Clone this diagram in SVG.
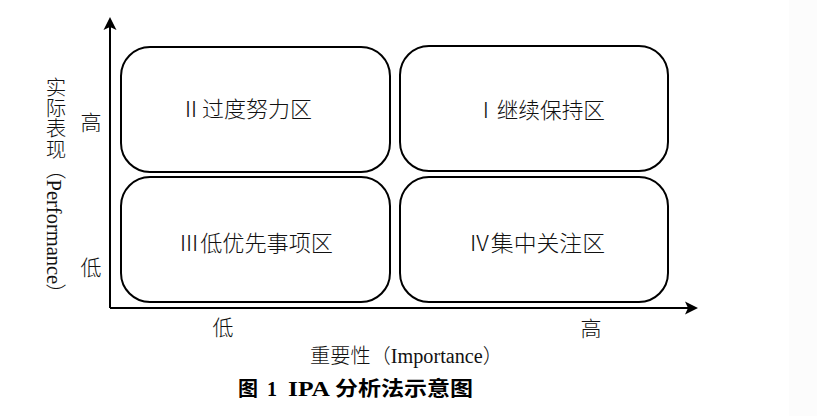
<svg xmlns="http://www.w3.org/2000/svg" width="817" height="416" viewBox="0 0 817 416">
<style>
.t{font-family:"Liberation Serif","Noto Sans CJK SC",serif;fill:#111;font-weight:300;}
.box{fill:#fff;stroke:#000;stroke-width:2;}
.axis{stroke:#000;stroke-width:2;fill:none;}
.head{fill:#000;stroke:none;}
.lbl{font-size:22px;}
.ax{font-size:21px;text-anchor:middle;}
.cap{font-family:"Liberation Serif","Noto Sans CJK SC",serif;font-weight:bold;font-size:20px;fill:#000;}
</style>
<rect x="0" y="0" width="817" height="416" fill="#fff"/>
<rect x="789" y="0" width="28" height="416" fill="#fcfcfc"/>
<g id="connectors">
<line class="axis" x1="110" y1="308" x2="110" y2="24"/>
<path class="head" d="M110,17 L116.5,30 L110,27 L103.5,30 Z"/>
<line class="axis" x1="110" y1="308" x2="690" y2="308"/>
<path class="head" d="M698,308 L685,301.5 L688,308 L685,314.5 Z"/>
</g>
<g id="q2">
<rect class="box" x="121" y="47" width="269" height="125" rx="29" ry="29"/>
<text class="t lbl" x="180" y="117" textLength="132" lengthAdjust="spacingAndGlyphs">Ⅱ过度努力区</text>
</g>
<g id="q1">
<rect class="box" x="400" y="46" width="268" height="125" rx="29" ry="29"/>
<text class="t lbl" x="475" y="118" textLength="130" lengthAdjust="spacingAndGlyphs">Ⅰ继续保持区</text>
</g>
<g id="q3">
<rect class="box" x="121" y="177" width="269" height="125" rx="29" ry="29"/>
<text class="t lbl" x="178" y="251" textLength="155" lengthAdjust="spacingAndGlyphs">Ⅲ低优先事项区</text>
</g>
<g id="q4">
<rect class="box" x="400" y="177" width="268" height="125" rx="29" ry="29"/>
<text class="t lbl" x="468" y="251" textLength="137" lengthAdjust="spacingAndGlyphs">Ⅳ集中关注区</text>
</g>
<g id="axis-labels">
<text class="t ax" x="91" y="130">高</text>
<text class="t ax" x="91" y="275">低</text>
<text class="t ax" x="223" y="335">低</text>
<text class="t ax" x="591" y="336">高</text>
<text class="t" x="310" y="363" font-size="20" textLength="193" lengthAdjust="spacingAndGlyphs">重要性（Importance）</text>
<text class="t" x="54" y="77" font-size="20.5" writing-mode="vertical-rl">实际表现（Performance）</text>
</g>
<g id="caption">
<text class="cap" y="396"><tspan x="238">图</tspan><tspan x="267">1</tspan><tspan x="288" textLength="42" lengthAdjust="spacingAndGlyphs">IPA</tspan><tspan x="335" textLength="138" lengthAdjust="spacingAndGlyphs">分析法示意图</tspan></text>
</g>
</svg>
